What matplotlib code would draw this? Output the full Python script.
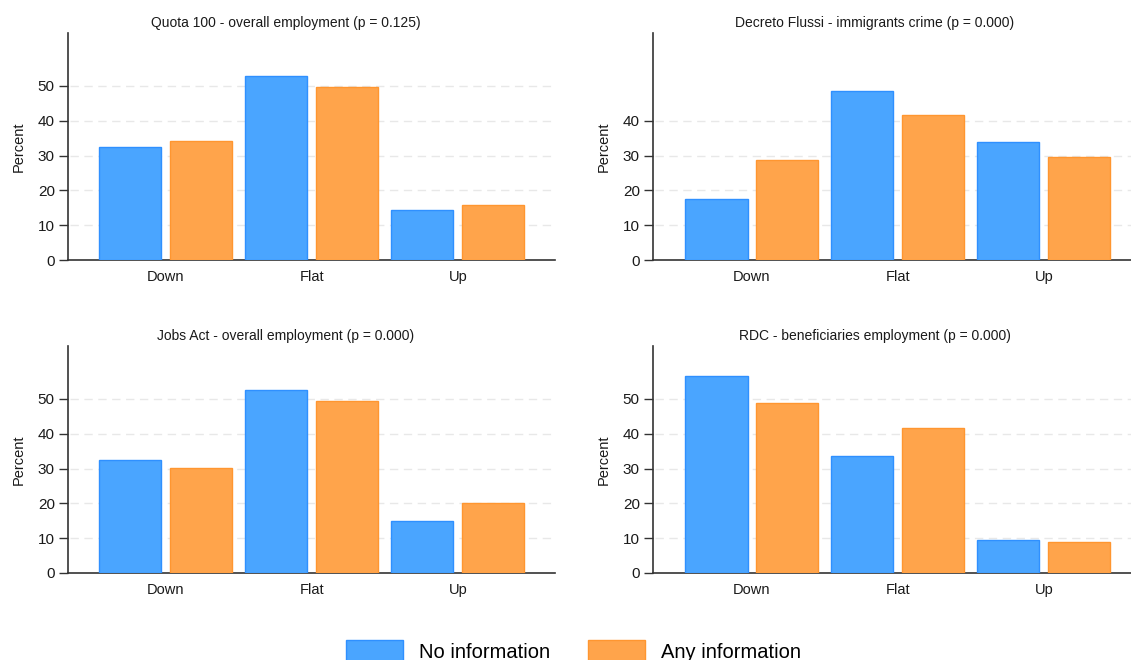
import numpy as np
import matplotlib
matplotlib.use('Agg')
import matplotlib.pyplot as plt
from matplotlib.patches import Patch

plt.rcParams['font.family'] = ['Liberation Sans', 'DejaVu Sans']

# ==========================================
# data
# ==========================================
categories = ['Down', 'Flat', 'Up']
series_names = ['No information', 'Any information']

titles = [
    'Quota 100 - overall employment (p = 0.125)',
    'Decreto Flussi - immigrants crime (p = 0.000)',
    'Jobs Act - overall employment (p = 0.000)',
    'RDC - beneficiaries employment (p = 0.000)',
]
no_info = [
    [32.5, 52.9, 14.4],
    [17.5, 48.6, 34.0],
    [32.5, 52.6, 14.9],
    [56.6, 33.6, 9.5],
]
any_info = [
    [34.2, 49.7, 15.8],
    [28.8, 41.7, 29.6],
    [30.2, 49.4, 20.1],
    [48.9, 41.7, 8.9],
]
y_ticks = [
    [0, 10, 20, 30, 40, 50],
    [0, 10, 20, 30, 40],
    [0, 10, 20, 30, 40, 50],
    [0, 10, 20, 30, 40, 50],
]

blue, blue_edge = '#4aa5ff', '#2f90ff'
orange, orange_edge = '#ffa44b', '#ff9630'

# ==========================================
# layout: 2x2 panels placed by hand
# ==========================================
W, H = 1131, 660
fig = plt.figure(figsize=(W / 100, H / 100), dpi=100)

boxes = [  # left, top, right, bottom in pixels
    (68, 33, 555, 260),
    (653, 33, 1131, 260),
    (68, 346, 555, 573),
    (653, 346, 1131, 573),
]
xlims = [(-0.67, 2.665), (-0.678, 2.597), (-0.67, 2.665), (-0.678, 2.597)]
title_x = [0.4476, 0.4644, 0.4476, 0.4644]  # titles sit a bit left of axes centre

x = np.arange(len(categories))
bw = 0.425
off = 0.243

for i, (l, t, r, b) in enumerate(boxes):
    ax = fig.add_axes([l / W, 1 - b / H, (r - l) / W, (b - t) / H])
    ax.bar(x - off, no_info[i], bw, color=blue, edgecolor=blue_edge, linewidth=1, zorder=3)
    ax.bar(x + off, any_info[i], bw, color=orange, edgecolor=orange_edge, linewidth=1, zorder=3)

    ax.set_xlim(*xlims[i])
    ax.set_ylim(0, 65.2)
    ax.set_xticks(x)
    ax.set_xticklabels(categories, fontsize=10.5, color='#1a1a1a')
    ax.tick_params(axis='x', length=0, pad=7)
    ax.set_yticks(y_ticks[i])
    ax.tick_params(axis='y', labelsize=11, length=6.5, width=1, color='#333333',
                   labelcolor='#1a1a1a', pad=3)
    ax.set_ylabel('Percent', fontsize=10.5, color='#1a1a1a', labelpad=9)
    ax.set_title(titles[i], fontsize=10, color='#1a1a1a', pad=4.5, x=title_x[i])

    for yv in y_ticks[i][1:]:
        ax.axhline(yv, xmin=0.005, color='#e8e8e8', linestyle=(0, (6, 4)), linewidth=1, zorder=1)

    for s in ['top', 'right']:
        ax.spines[s].set_visible(False)
    for s in ['left', 'bottom']:
        ax.spines[s].set_color('#333333')
        ax.spines[s].set_linewidth(1.2)

handles = [
    Patch(facecolor=blue, edgecolor=blue_edge, label=series_names[0]),
    Patch(facecolor=orange, edgecolor=orange_edge, label=series_names[1]),
]
fig.legend(handles=handles, loc='center', bbox_to_anchor=(0.5 + 8 / W, 1 - 651 / H),
           ncol=2, frameon=False, fontsize=14.5, handlelength=2.8, handleheight=1.2,
           handletextpad=0.8, columnspacing=1.9)

fig.savefig('out.png', dpi=100)
